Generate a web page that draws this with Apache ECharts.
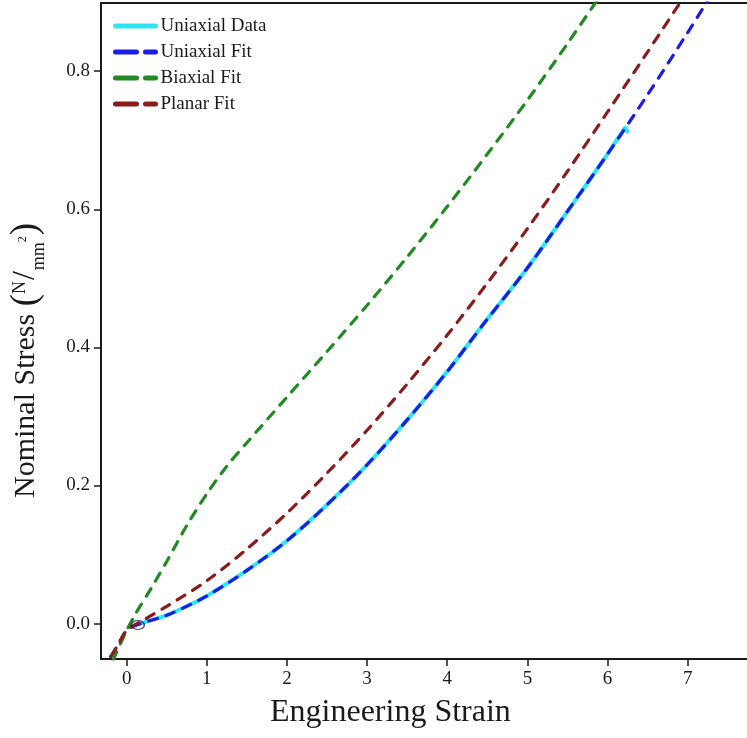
<!DOCTYPE html>
<html>
<head>
<meta charset="utf-8">
<script src="https://cdn.jsdelivr.net/npm/echarts@6/dist/echarts.min.js"></script>
<style>
  html, body { margin: 0; padding: 0; background: #fff; }
  #chart { width: 747px; height: 738px; }
</style>
</head>
<body>
<div id="chart"></div>
<script>
// Tick values shown on each axis
const xTicks = [0, 1, 2, 3, 4, 5, 6, 7];
const yTicks = [0, 0.2, 0.4, 0.6, 0.8];

// Uniaxial test data (engineering strain vs nominal stress)
const uniDataStrain = [0.12, 0.3, 0.5, 0.75, 1, 1.5, 2, 2.5, 3, 3.5, 4, 4.5, 5, 5.5, 6, 6.1, 6.18, 6.22, 6.25];
const uniDataStress = [-0.002, 0.005, 0.012, 0.025, 0.04, 0.077, 0.12, 0.172, 0.23, 0.295, 0.365, 0.441, 0.515, 0.597, 0.68, 0.698, 0.711, 0.718, 0.713];

// Hyperelastic fits
const uniFitStrain = [-0.19, -0.1, 0, 0.15, 0.5, 1, 1.5, 2, 2.5, 3, 3.5, 4, 4.5, 5, 5.5, 6, 6.5, 7, 7.4];
const uniFitStress = [-0.047, -0.029, -0.01, -0.001, 0.012, 0.04, 0.077, 0.12, 0.172, 0.23, 0.295, 0.365, 0.441, 0.515, 0.597, 0.68, 0.766, 0.856, 0.93];

const biaxFitStrain = [-0.17, -0.1, 0, 0.1, 0.3, 0.5, 0.75, 1, 1.25, 1.5, 2, 2.5, 3, 3.5, 4, 4.5, 5, 5.5, 6];
const biaxFitStress = [-0.053, -0.035, -0.01, 0.012, 0.05, 0.09, 0.142, 0.188, 0.228, 0.262, 0.328, 0.394, 0.461, 0.531, 0.604, 0.68, 0.758, 0.84, 0.925];

const planFitStrain = [-0.2, -0.1, 0, 0.25, 0.5, 1, 1.5, 2, 2.5, 3, 3.5, 4, 4.5, 5, 5.5, 6, 6.5, 7];
const planFitStress = [-0.048, -0.03, -0.01, 0.008, 0.025, 0.062, 0.108, 0.16, 0.218, 0.28, 0.347, 0.418, 0.493, 0.572, 0.655, 0.741, 0.828, 0.916];

// Start point of the uniaxial record
const startStrain = [0.14];
const startStress = [-0.002];

const pairs = (xs, ys) => xs.map((x, i) => [x, ys[i]]);

const SERIF = "'Liberation Serif', 'Times New Roman', serif";
const INK = '#1a1a1a';

const chart = echarts.init(document.getElementById('chart'), null, { renderer: 'canvas' });

const dashed = (color) => ({ color: color, width: 3.2, type: [9, 9], cap: 'round' });

const curve = (name, xs, ys, color, lineStyle, z) => ({
  name: name,
  type: 'line',
  data: pairs(xs, ys),
  smooth: 0.3,
  showSymbol: false,
  symbol: 'none',
  itemStyle: { color: color },
  lineStyle: lineStyle,
  z: z
});

const legendDash = { type: [21, 9] };

chart.setOption({
  animation: false,
  backgroundColor: '#ffffff',
  grid: { left: 101, right: 0, top: 3, bottom: 79, containLabel: false },
  legend: {
    orient: 'vertical',
    left: 108,
    top: 11,
    itemWidth: 40,
    itemHeight: 10,
    itemGap: 6,
    data: [
      { name: 'Uniaxial Data', lineStyle: { type: 'solid' } },
      { name: 'Uniaxial Fit', lineStyle: legendDash },
      { name: 'Biaxial Fit', lineStyle: legendDash },
      { name: 'Planar Fit', lineStyle: legendDash }
    ],
    itemStyle: { opacity: 0 },
    lineStyle: { width: 5, cap: 'round' },
    textStyle: { fontFamily: SERIF, fontSize: 19, color: INK, lineHeight: 20 }
  },
  xAxis: [{
    type: 'value',
    min: -0.32,
    max: 7.74,
    axisLine: { show: true, onZero: false, lineStyle: { color: INK, width: 2 } },
    axisTick: { show: true, inside: false, length: 7, customValues: xTicks, lineStyle: { color: INK, width: 1.5 } },
    axisLabel: { customValues: xTicks, fontFamily: SERIF, fontSize: 19, color: INK, margin: 11 },
    splitLine: { show: false }
  }, {
    type: 'value',
    position: 'top',
    min: -0.32,
    max: 7.74,
    axisLine: { show: true, onZero: false, lineStyle: { color: INK, width: 2 } },
    axisTick: { show: false },
    axisLabel: { show: false },
    splitLine: { show: false }
  }],
  yAxis: {
    type: 'value',
    min: -0.0513,
    max: 0.8988,
    axisLine: { show: true, onZero: false, lineStyle: { color: INK, width: 2 } },
    axisTick: { show: true, inside: false, length: 7, customValues: yTicks, lineStyle: { color: INK, width: 1.5 } },
    axisLabel: {
      customValues: yTicks,
      fontFamily: SERIF, fontSize: 19, color: INK, margin: 11,
      formatter: (v) => v.toFixed(1)
    },
    splitLine: { show: false }
  },
  graphic: [
    {
      type: 'text',
      left: 270,
      top: 697,
      style: { text: 'Engineering Strain', font: '32px ' + SERIF, fill: INK }
    },
    {
      type: 'text',
      x: 3,
      y: 498,
      rotation: Math.PI / 2,
      style: {
        text: '{t|Nominal Stress }{p|(}{sup|N}{sl|/}{sub|mm}{sq|2}{p|)}',
        fill: INK,
        rich: {
          t:   { fontFamily: SERIF, fontSize: 30, lineHeight: 46, verticalAlign: 'middle', fill: INK },
          p:   { fontFamily: SERIF, fontSize: 37, lineHeight: 46, verticalAlign: 'middle', fill: INK },
          sl:  { fontFamily: SERIF, fontSize: 32, lineHeight: 46, verticalAlign: 'middle', fill: INK },
          sup: { fontFamily: SERIF, fontSize: 18, lineHeight: 18, verticalAlign: 'top', padding: [8, 1, 0, 0], fill: INK },
          sub: { fontFamily: SERIF, fontSize: 18, lineHeight: 18, verticalAlign: 'bottom', padding: [0, 0, 1, 1], fill: INK },
          sq:  { fontFamily: SERIF, fontSize: 12, lineHeight: 12, verticalAlign: 'middle', padding: [0, 1, 6, 0], fill: INK }
        }
      }
    }
  ],
  series: [
    curve('Uniaxial Data', uniDataStrain, uniDataStress, '#2ee6f0',
      { color: '#2ee6f0', width: 4, cap: 'round' }, 2),
    curve('Uniaxial Fit', uniFitStrain, uniFitStress, '#1c1ce8', dashed('#1c1ce8'), 3),
    curve('Biaxial Fit', biaxFitStrain, biaxFitStress, '#238a23', dashed('#238a23'), 3),
    curve('Planar Fit', planFitStrain, planFitStress, '#8a1c1c', dashed('#8a1c1c'), 3),
    {
      name: 'Start',
      type: 'scatter',
      data: pairs(startStrain, startStress),
      symbol: 'circle',
      symbolSize: [13, 9],
      itemStyle: { color: 'rgba(0,0,0,0)', borderColor: '#1a1a5a', borderWidth: 1.3 },
      z: 4
    }
  ]
});
</script>
</body>
</html>
